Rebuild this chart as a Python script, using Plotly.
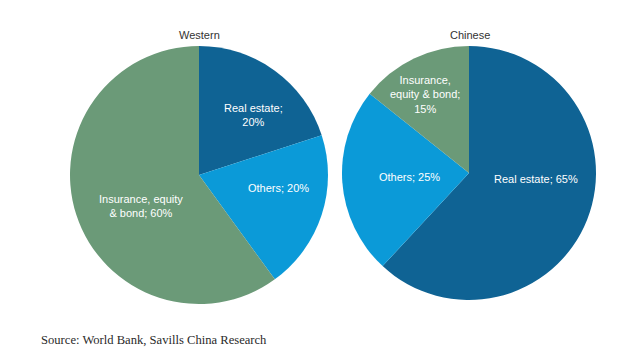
import plotly.graph_objects as go

categories = ["Real estate", "Others", "Insurance, equity & bond"]
western_values = [20, 20, 60]
chinese_values = [65, 25, 15]
western_text = ["Real estate;<br>20%", "Others; 20%", "Insurance, equity<br>& bond; 60%"]
chinese_text = ["Real estate; 65%", "Others; 25%", "Insurance,<br>equity & bond;<br>15%"]
colors = ["#0f6394", "#0b9ad8", "#6b9a78"]

W, H = 640, 352
SANS = "Liberation Sans, Arial, sans-serif"

def dom(cx, cy, r):
    return dict(x=[(cx - r) / W, (cx + r) / W], y=[(H - cy - r) / H, (H - cy + r) / H])

fig = go.Figure()
fig.add_trace(go.Pie(
    labels=categories, values=western_values, text=western_text,
    textinfo="none", sort=False, direction="clockwise", rotation=0,
    marker=dict(colors=colors, line=dict(width=0)),
    domain=dom(199, 175, 129), showlegend=False, hoverinfo="label+percent",
))
fig.add_trace(go.Pie(
    labels=categories, values=chinese_values, text=chinese_text,
    textinfo="none", sort=False, direction="clockwise", rotation=0,
    marker=dict(colors=colors, line=dict(width=0)),
    domain=dom(469, 173, 127), showlegend=False, hoverinfo="label+percent",
))

# label anchor points (pixel centres) for slice texts
western_label_pos = [(253, 115), (278, 188), (141, 206)]
chinese_label_pos = [(536, 179), (409, 177), (425, 94)]

annotations = []
for texts, positions in ((western_text, western_label_pos), (chinese_text, chinese_label_pos)):
    for t, (px, py) in zip(texts, positions):
        annotations.append(dict(
            text=t, x=px / W, y=1 - py / H, xref="paper", yref="paper",
            xanchor="center", yanchor="middle", showarrow=False,
            font=dict(size=11, color="white", family=SANS)))

annotations += [
    dict(text="Western", x=199 / W, y=1 - 35 / H, xref="paper", yref="paper",
         xanchor="center", yanchor="middle", showarrow=False,
         font=dict(size=11, color="#333333", family=SANS)),
    dict(text="Chinese", x=470 / W, y=1 - 35 / H, xref="paper", yref="paper",
         xanchor="center", yanchor="middle", showarrow=False,
         font=dict(size=11, color="#333333", family=SANS)),
    dict(text="Source: World Bank, Savills China Research", x=39 / W, y=1 - 340 / H,
         xref="paper", yref="paper", xanchor="left", yanchor="middle", showarrow=False,
         font=dict(size=12.6, color="#2a2a2a", family="Liberation Serif, Times New Roman, serif")),
]

fig.update_layout(
    width=W, height=H, margin=dict(l=0, r=0, t=0, b=0),
    paper_bgcolor="white", plot_bgcolor="white",
    annotations=annotations,
)

fig.write_html("out.html")
